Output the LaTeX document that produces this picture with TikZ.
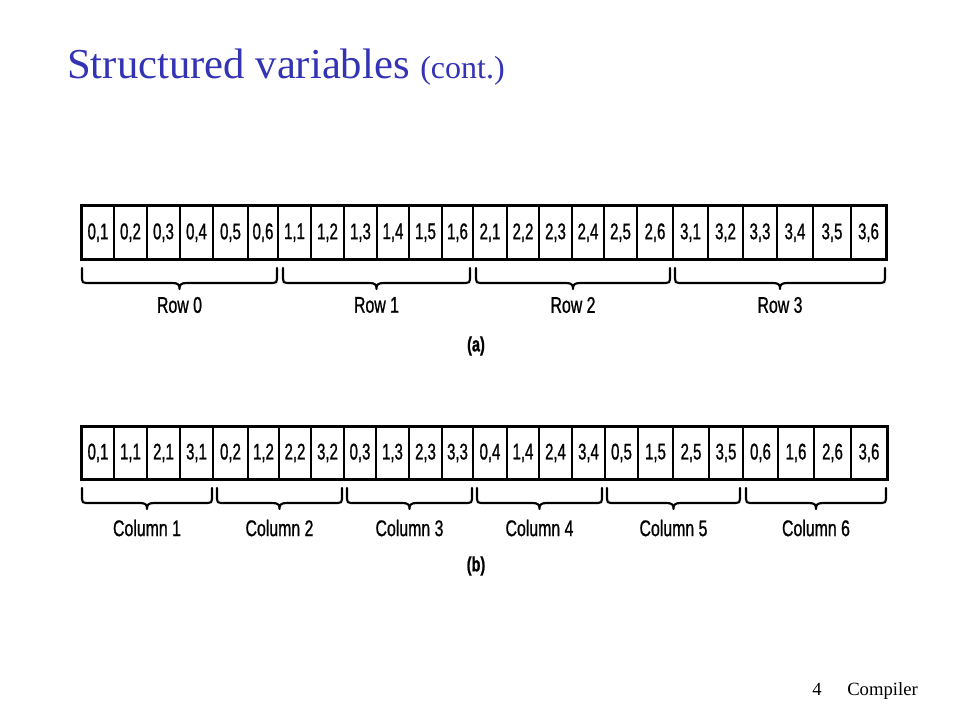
\documentclass[tikz,border=0pt]{standalone}
\usepackage{fontspec}
\setmainfont{Liberation Serif}
\newfontfamily\cellfont[FakeStretch=0.66,FakeBold=0.9]{Liberation Sans}
\newfontfamily\lblfont[FakeStretch=0.7,FakeBold=0.9]{Liberation Sans}
\definecolor{titleblue}{RGB}{51,51,180}
\newcommand\arrbrace[6]{% #1 name, #2 x1, #3 x2, #4 ytop, #5 label y, #6 text
  \pgfmathsetmacro\bm{(#2+#3)/2}
  \draw[bracestyle] (#2,#4) -- (#2,#4+11)
    .. controls (#2,#4+14) and (#2+1,#4+15) .. (#2+4,#4+15)
    -- (\bm-7,#4+15)
    .. controls (\bm-1,#4+15) and (\bm,#4+17) .. (\bm,#4+21)
    .. controls (\bm,#4+17) and (\bm+1,#4+15) .. (\bm+7,#4+15)
    -- (#3-4,#4+15)
    .. controls (#3-1,#4+15) and (#3,#4+14) .. (#3,#4+11) -- (#3,#4);
  \node[lbl] (#1) at (\bm,#5) {#6};
}
\begin{document}
\begin{tikzpicture}[x=0.75pt,y=-0.75pt,
  cell/.style={draw, line width=1.2pt, inner sep=0pt, minimum height=39.4pt,
    font=\cellfont\fontsize{17}{20}\selectfont},
  outerbox/.style={draw, line width=1.8pt},
  bracestyle/.style={line width=1.6pt, line join=round, line cap=round},
  lbl/.style={inner sep=0pt, font=\lblfont\fontsize{17}{20}\selectfont},
  sub/.style={inner sep=0pt, font=\lblfont\bfseries\fontsize{15.5}{18}\selectfont}]
\useasboundingbox (0,0) rectangle (960,720);
% title
\node[anchor=base west, inner sep=0pt, text=titleblue, font=\fontsize{32}{38}\selectfont] (title) at (67,79)
  {Structured variables {\fontsize{24}{28}\selectfont (cont.)}};
% top array (row-major)
\foreach \xa/\xb [count=\i] in {82/114,114/147,147/180,180/213,213/248,248/278,278/311,311/344,344/377,377/409,409/442,442/473,473/507,507/539,539/572,572/604,604/637,637/673,673/708,708/743,743/777,777/813,813/851,851/886}{
  \pgfmathtruncatemacro\rr{int((\i-1)/6)}
  \pgfmathtruncatemacro\cc{mod(\i-1,6)+1}
  \node[cell, minimum width={(\xb-\xa)*0.75pt}] (a\i) at ({(\xa+\xb)/2},232.75) {\rr,\cc};
}
\draw[outerbox] (a1.north west) rectangle (a24.south east);
% bottom array (column-major)
\foreach \xa/\xb [count=\i] in {82/114,114/147,147/180,180/213,213/248,248/279,279/311,311/344,344/376,376/409,409/442,442/473,473/507,507/539,539/572,572/605,605/638,638/673,673/709,709/743,743/778,778/814,814/851,851/887}{
  \pgfmathtruncatemacro\cc{int((\i-1)/4)+1}
  \pgfmathtruncatemacro\rr{mod(\i-1,4)}
  \node[cell, minimum width={(\xb-\xa)*0.75pt}] (b\i) at ({(\xa+\xb)/2},453) {\rr,\cc};
}
\draw[outerbox] (b1.north west) rectangle (b24.south east);
% braces top
\arrbrace{row0}{82}{277}{268}{305}{Row 0}
\arrbrace{row1}{283}{470}{268}{305}{Row 1}
\arrbrace{row2}{476}{670}{268}{305}{Row 2}
\arrbrace{row3}{675}{885}{268}{305}{Row 3}
\node[sub] (capa) at (476,346) {(a)};
% braces bottom
\arrbrace{col1}{82}{212}{488}{528}{Column 1}
\arrbrace{col2}{217}{342}{488}{528}{Column 2}
\arrbrace{col3}{347}{472}{488}{528}{Column 3}
\arrbrace{col4}{477}{602}{488}{528}{Column 4}
\arrbrace{col5}{607}{740}{488}{528}{Column 5}
\arrbrace{col6}{746}{886}{488}{528}{Column 6}
\node[sub] (capb) at (476,566) {(b)};
% footer
\node[anchor=base west, inner sep=0pt, font=\fontsize{14}{16}\selectfont] (pnum) at (812,695) {4};
\node[anchor=base west, inner sep=0pt, font=\fontsize{14}{16}\selectfont] (foot) at (847,695) {Compiler};
\end{tikzpicture}
\end{document}
